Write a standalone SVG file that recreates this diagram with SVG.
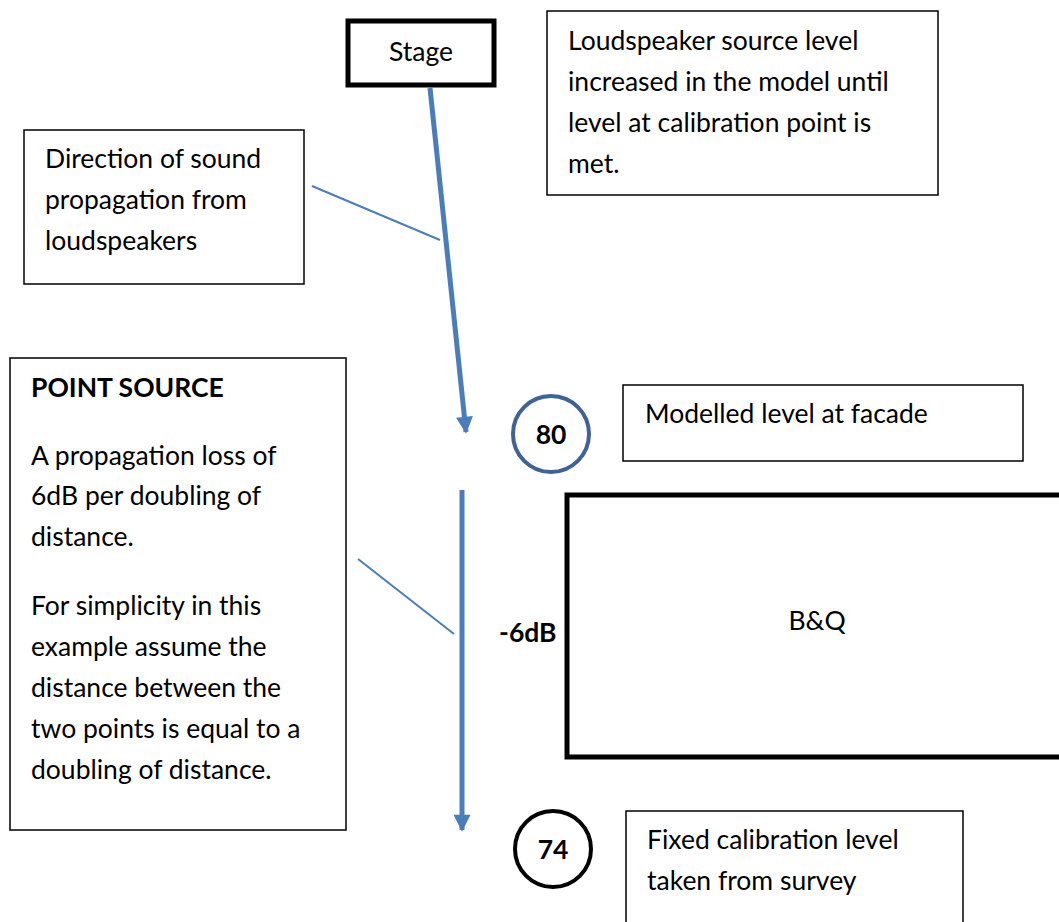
<svg xmlns="http://www.w3.org/2000/svg" width="1059" height="922" viewBox="0 0 1059 922">
<style>
text{font-family:Lato,"Liberation Sans",sans-serif;font-size:26.5px;fill:#000}
.b{font-weight:bold}
.thin{fill:#fff;stroke:#000;stroke-width:1.5}
.thick{fill:#fff;stroke:#000;stroke-width:5}
.conn{stroke:#4a7ebb;fill:none}
</style>
<defs>
<marker id="ah" viewBox="0 0 10 10" refX="9" refY="5" markerWidth="4" markerHeight="3.4" orient="auto" markerUnits="strokeWidth">
<path d="M0,0L10,5L0,10z" fill="#4a7ebb"/>
</marker>
</defs>
<rect width="1059" height="922" fill="#fff"/>
<g id="connectors">
<line class="conn" x1="430" y1="88" x2="466" y2="432" stroke-width="5" marker-end="url(#ah)"/>
<line class="conn" x1="462" y1="490" x2="462" y2="830" stroke-width="5" marker-end="url(#ah)"/>
<line class="conn" x1="312" y1="186" x2="440" y2="240" stroke-width="2"/>
<line class="conn" x1="358" y1="559" x2="454" y2="634" stroke-width="2"/>
</g>
<g id="stage">
<rect class="thick" x="348" y="21" width="146" height="64"/>
<text x="421" y="61" text-anchor="middle">Stage</text>
</g>
<g id="loudspeaker-note">
<rect class="thin" x="547" y="11" width="391" height="184"/>
<text x="568" y="50">Loudspeaker source level</text>
<text x="568" y="91">increased in the model until</text>
<text x="568" y="132">level at calibration point is</text>
<text x="568" y="173">met.</text>
</g>
<g id="direction-note">
<rect class="thin" x="24" y="130" width="280" height="154"/>
<text x="45" y="168">Direction of sound</text>
<text x="45" y="209">propagation from</text>
<text x="45" y="250">loudspeakers</text>
</g>
<g id="point-source">
<rect class="thin" x="10" y="358" width="336" height="472"/>
<text class="b" x="31" y="397">POINT SOURCE</text>
<text x="31" y="465">A propagation loss of</text>
<text x="31" y="505">6dB per doubling of</text>
<text x="31" y="546">distance.</text>
<text x="31" y="615">For simplicity in this</text>
<text x="31" y="656">example assume the</text>
<text x="31" y="697">distance between the</text>
<text x="31" y="738">two points is equal to a</text>
<text x="31" y="779">doubling of distance.</text>
</g>
<g id="label-6db">
<text class="b" x="499" y="642">-6dB</text>
</g>
<g id="level-80">
<circle cx="551" cy="434" r="38" fill="#fff" stroke="#3d6399" stroke-width="4"/>
<text class="b" x="551" y="444" text-anchor="middle">80</text>
</g>
<g id="modelled-note">
<rect class="thin" x="623" y="385" width="400" height="76"/>
<text x="645" y="423">Modelled level at facade</text>
</g>
<g id="bq">
<rect class="thick" x="567" y="495" width="500" height="262"/>
<text x="817" y="630" text-anchor="middle">B&amp;Q</text>
</g>
<g id="level-74">
<circle cx="553" cy="849" r="38" fill="#fff" stroke="#000" stroke-width="4"/>
<text class="b" x="553" y="859" text-anchor="middle">74</text>
</g>
<g id="fixed-note">
<rect class="thin" x="626" y="811" width="337" height="120"/>
<text x="647" y="849">Fixed calibration level</text>
<text x="647" y="890">taken from survey</text>
</g>
</svg>
